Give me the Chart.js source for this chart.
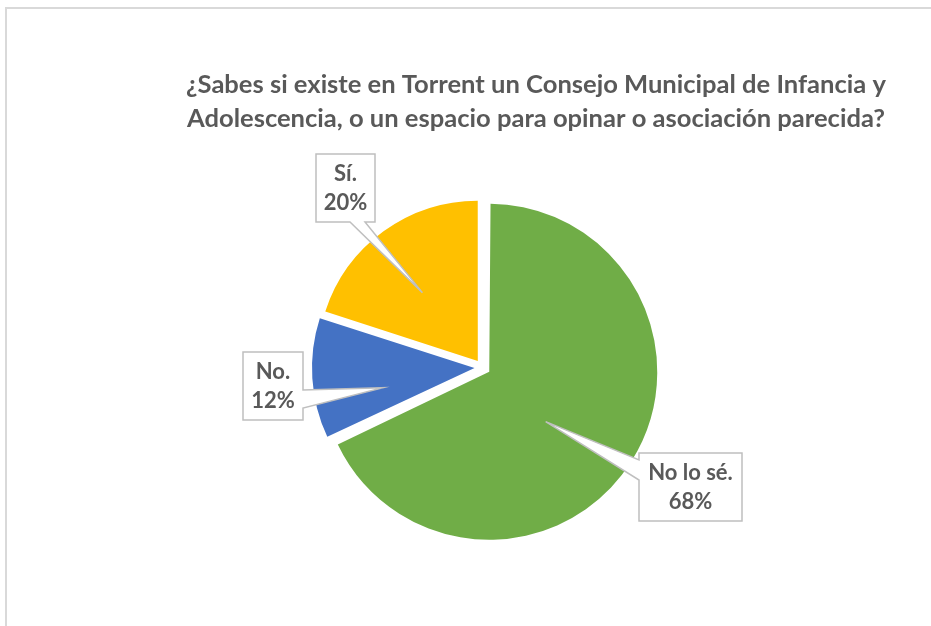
<!DOCTYPE html>
<html>
<head>
<meta charset="utf-8">
<script src="https://cdn.jsdelivr.net/npm/chart.js@4.4.1/dist/chart.umd.min.js"></script>
<style>
  body { margin: 0; background: #fff; }
  #wrap { position: relative; width: 931px; height: 626px; overflow: hidden; }
  #frame { position: absolute; left: 5px; top: 7px; width: 1000px; height: 1000px;
           border-left: 2px solid #d9d9d9; border-top: 2px solid #d9d9d9; }
  canvas { position: absolute; left: 0; top: 0; }
</style>
</head>
<body>
<div id="wrap">
  <div id="frame"></div>
  <canvas id="chart" width="931" height="626"></canvas>
</div>
<script>
const titleLines = [
  "¿Sabes si existe en Torrent un Consejo Municipal de Infancia y",
  "Adolescencia, o un espacio para opinar o asociación parecida?"
];
const categories = ["No lo sé.", "No.", "Sí."];
const percentages = [68, 12, 20];
const sliceColors = ["#70AD47", "#4472C4", "#FFC000"];

const textColor = "#595959";
const fontFamily = "Lato, 'Liberation Sans', sans-serif";

// callout boxes (layout only): box rect, side where the pointer starts, pointer base
// along that side, and where on the slice the pointer ends
const callouts = [
  { x: 639, y: 453, w: 103, h: 68, side: "left", a: 7, b: 27, frac: 0.52, turn: 8.2 },
  { x: 243, y: 352, w: 60, h: 68, side: "right", a: 38, b: 56, frac: 0.635, turn: -7.9 },
  { x: 316, y: 154, w: 59, h: 68, side: "bottom", a: 34, b: 49, frac: 0.6, turn: -2.75 }
];

function calloutPath(ctx, c, tx, ty) {
  const { x, y, w, h, side, a, b } = c;
  ctx.beginPath();
  ctx.moveTo(x, y);
  if (side === "top") { ctx.lineTo(x + a, y); ctx.lineTo(tx, ty); ctx.lineTo(x + b, y); }
  ctx.lineTo(x + w, y);
  if (side === "right") { ctx.lineTo(x + w, y + a); ctx.lineTo(tx, ty); ctx.lineTo(x + w, y + b); }
  ctx.lineTo(x + w, y + h);
  if (side === "bottom") { ctx.lineTo(x + b, y + h); ctx.lineTo(tx, ty); ctx.lineTo(x + a, y + h); }
  ctx.lineTo(x, y + h);
  if (side === "left") { ctx.lineTo(x, y + b); ctx.lineTo(tx, ty); ctx.lineTo(x, y + a); }
  ctx.closePath();
}

const labelPlugin = {
  id: "labels",
  afterDraw(chart) {
    const ctx = chart.ctx;
    ctx.save();

    // title, two centred lines
    ctx.fillStyle = textColor;
    ctx.textAlign = "center";
    ctx.textBaseline = "alphabetic";
    ctx.font = "bold 20px " + fontFamily;
    const w0 = ctx.measureText(titleLines[0]).width;
    const size = 20 * 700 / w0;
    ctx.font = "bold " + size.toFixed(2) + "px " + fontFamily;
    ctx.fillText(titleLines[0], 536, 93);
    ctx.fillText(titleLines[1], 536, 127);

    // data callouts
    const meta = chart.getDatasetMeta(0);
    meta.data.forEach((arc, i) => {
      const c = callouts[i];
      const p = arc.getProps(["x", "y", "startAngle", "endAngle", "outerRadius"], true);
      const ang = (p.startAngle + p.endAngle) / 2 + c.turn * Math.PI / 180;
      const tx = p.x + Math.cos(ang) * p.outerRadius * c.frac;
      const ty = p.y + Math.sin(ang) * p.outerRadius * c.frac;

      calloutPath(ctx, c, tx, ty);
      ctx.fillStyle = "#ffffff";
      ctx.fill();
      ctx.lineWidth = 1.5;
      ctx.strokeStyle = "#bfbfbf";
      ctx.stroke();

      ctx.fillStyle = textColor;
      ctx.font = "bold 22px " + fontFamily;
      ctx.textAlign = "center";
      ctx.textBaseline = "middle";
      const cx = c.x + c.w / 2, cy = c.y + c.h / 2;
      ctx.fillText(categories[i], cx, cy - 14);
      ctx.fillText(percentages[i] + "%", cx, cy + 15);
    });
    ctx.restore();
  }
};

new Chart(document.getElementById("chart"), {
  type: "pie",
  data: {
    labels: categories,
    datasets: [{
      data: percentages,
      backgroundColor: sliceColors,
      borderWidth: 0,
      offset: 32,
      radius: 160
    }]
  },
  options: {
    responsive: false,
    animation: false,
    layout: { padding: { left: 34, right: 0, top: 109, bottom: 0 } },
    plugins: {
      legend: { display: false },
      title: { display: false },
      tooltip: { enabled: false }
    }
  },
  plugins: [labelPlugin]
});
</script>
</body>
</html>
